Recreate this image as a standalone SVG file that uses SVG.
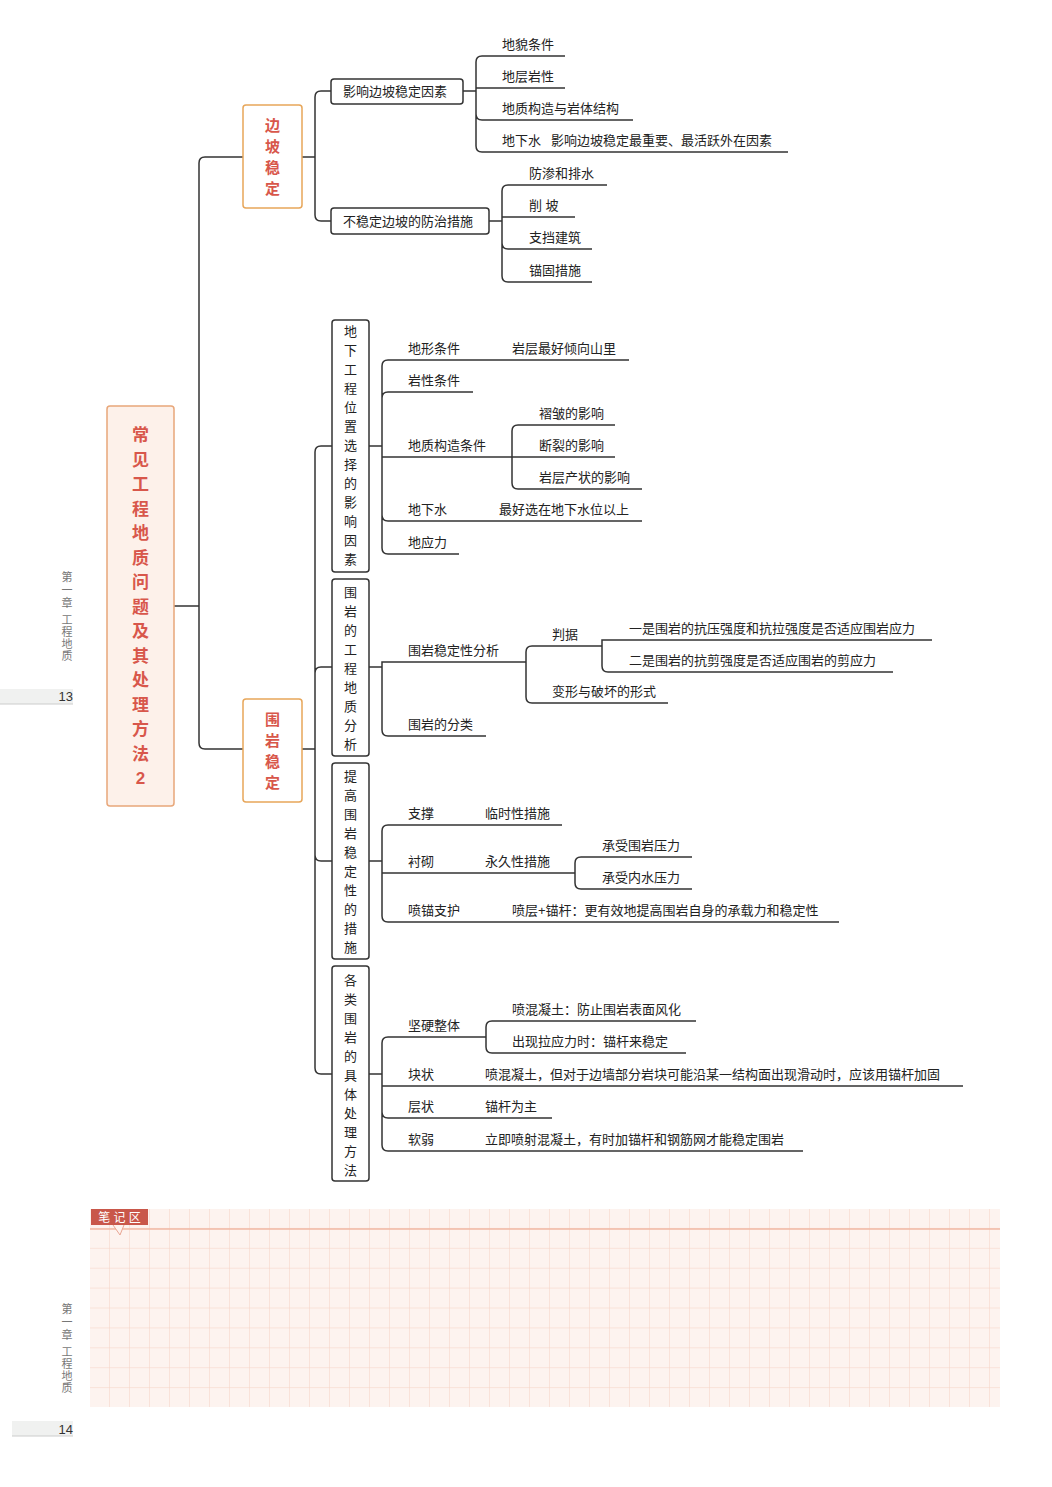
<svg xmlns="http://www.w3.org/2000/svg" width="1052" height="1487" viewBox="0 0 1052 1487">
<style>
text{font-family:"Liberation Sans","Noto Sans CJK SC",sans-serif;fill:#222;font-size:13px}
.c{fill:none;stroke:#333;stroke-width:1.5}
.box{fill:#fff;stroke:#333;stroke-width:1.5}
.obox{fill:#fff;stroke:#e7a65a;stroke-width:1.5}
.rt{fill:#d8574b;font-size:15px;font-weight:bold;text-anchor:middle}
.vt{text-anchor:middle;font-size:13px}
.m{fill:#777;font-size:11px;text-anchor:middle}
.g{stroke:#f6d2c4;stroke-width:1}
</style>
<defs>
<pattern id="grid" x="90" y="1209" width="20" height="19.9" patternUnits="userSpaceOnUse">
<path d="M20 0V19.9M0 19.9H20" class="g" fill="none"/>
</pattern>
</defs>
<g id="margin">
<text class="m" x="67" y="581">第</text><text class="m" x="67" y="594">一</text><text class="m" x="67" y="607">章</text>
<text class="m" x="67" y="624">工</text><text class="m" x="67" y="636">程</text><text class="m" x="67" y="648">地</text><text class="m" x="67" y="660">质</text>
<rect x="0" y="689" width="73" height="15" fill="#f0f1f0"/><line x1="0" y1="704" x2="73" y2="704" stroke="#ccc"/>
<text x="73" y="701" style="text-anchor:end;fill:#333;font-size:13px">13</text>
<text class="m" x="67" y="1313">第</text><text class="m" x="67" y="1326">一</text><text class="m" x="67" y="1339">章</text>
<text class="m" x="67" y="1356">工</text><text class="m" x="67" y="1368">程</text><text class="m" x="67" y="1380">地</text><text class="m" x="67" y="1392">质</text>
<rect x="12" y="1421" width="61" height="15" fill="#f0f1f0"/><line x1="12" y1="1436" x2="73" y2="1436" stroke="#ccc"/>
<text x="73" y="1434" style="text-anchor:end;fill:#333;font-size:13px">14</text>
</g>
<g id="notes">
<rect x="90" y="1209" width="910" height="198" fill="#fdf3ef"/>
<rect x="90" y="1209" width="910" height="198" fill="url(#grid)"/>
<line x1="90" y1="1229" x2="1000" y2="1229" stroke="#f0b8a4" stroke-width="1.5"/>
<rect x="91" y="1209" width="57" height="16" fill="#c9574a"/>
<path d="M113 1225 L120 1235 L124 1225" fill="#fdf3ef" stroke="#e9a593"/>
<text x="119.5" y="1222" style="fill:#fff;font-size:12px;text-anchor:middle">笔 记 区</text>
</g>
<g id="connectors">
<path class="c" d="M174 606H199M199 606V163Q199 157 205 157H243M199 606V743Q199 749 205 749H243"/>
<path class="c" d="M302 157H315M315 157V97Q315 91 321 91H331M315 157V215Q315 221 321 221H331"/>
<path class="c" d="M463 91H476M476 91V62Q476 56 482 56H565M476 91V88H565M476 91V114Q476 120 482 120H633M476 91V146Q476 152 482 152H788"/>
<path class="c" d="M489 221H502M502 221V191Q502 185 508 185H607M502 221V217H575M502 221V243Q502 249 508 249H592M502 221V276Q502 282 508 282H592"/>
<path class="c" d="M302 749H315M315 749V452Q315 446 321 446H332M315 749V673Q315 667 321 667H332M315 749V855Q315 861 321 861H332M315 749V1068Q315 1074 321 1074H332"/>
<path class="c" d="M369 446H382M382 446V366Q382 360 388 360H629M382 446V398Q382 392 388 392H473M382 446V457H512M382 446V515Q382 521 388 521H642M382 446V548Q382 554 388 554H459"/>
<path class="c" d="M512 457V431Q512 425 518 425H615M512 457H615M512 457V483Q512 489 518 489H642"/>
<path class="c" d="M369 667H382M382 667V662H526M382 667V730Q382 736 388 736H486"/>
<path class="c" d="M526 662V652Q526 646 532 646H602M526 662V697Q526 703 532 703H668M602 646V640H932M602 646V666Q602 672 608 672H893"/>
<path class="c" d="M369 861H382M382 861V831Q382 825 388 825H562M382 861V873H575M382 861V916Q382 922 388 922H839M575 873V863Q575 857 581 857H692M575 873V883Q575 889 581 889H692"/>
<path class="c" d="M369 1074H382M382 1074V1043Q382 1037 388 1037H486M382 1074V1086H963M382 1074V1112Q382 1118 388 1118H552M382 1074V1145Q382 1151 388 1151H803M486 1037V1027Q486 1021 492 1021H696M486 1037V1047Q486 1053 492 1053H686"/>
</g>
<g id="root">
<rect x="107" y="406" width="67" height="400" rx="3" fill="#fdf1ea" stroke="#e8a77a" stroke-width="1.5"/>
<text class="rt" style="font-size:17px"><tspan x="140.5" y="441">常</tspan><tspan x="140.5" y="466">见</tspan><tspan x="140.5" y="490">工</tspan><tspan x="140.5" y="515">程</tspan><tspan x="140.5" y="539">地</tspan><tspan x="140.5" y="564">质</tspan><tspan x="140.5" y="588">问</tspan><tspan x="140.5" y="613">题</tspan><tspan x="140.5" y="637">及</tspan><tspan x="140.5" y="662">其</tspan><tspan x="140.5" y="686">处</tspan><tspan x="140.5" y="711">理</tspan><tspan x="140.5" y="735">方</tspan><tspan x="140.5" y="760">法</tspan><tspan x="140.5" y="784">2</tspan></text>
</g>
<g id="n-slope">
<rect class="obox" x="243" y="105" width="59" height="103" rx="3"/>
<text class="rt"><tspan x="272.5" y="131">边</tspan><tspan x="272.5" y="152">坡</tspan><tspan x="272.5" y="173">稳</tspan><tspan x="272.5" y="194">定</tspan></text>
</g>
<g id="n-rock">
<rect class="obox" x="243" y="699" width="59" height="103" rx="3"/>
<text class="rt"><tspan x="272.5" y="725">围</tspan><tspan x="272.5" y="746">岩</tspan><tspan x="272.5" y="767">稳</tspan><tspan x="272.5" y="788">定</tspan></text>
</g>
<g id="n-factors">
<rect class="box" x="331" y="79" width="132" height="25" rx="3"/>
<text x="343" y="96">影响边坡稳定因素</text>
<text x="502" y="49">地貌条件</text><text x="502" y="81">地层岩性</text><text x="502" y="113">地质构造与岩体结构</text><text x="502" y="145">地下水</text><text x="551" y="145">影响边坡稳定最重要、最活跃外在因素</text>
</g>
<g id="n-measures">
<rect class="box" x="331" y="208" width="158" height="26" rx="3"/>
<text x="343" y="226">不稳定边坡的防治措施</text>
<text x="529" y="178">防渗和排水</text><text x="529" y="210">削 坡</text><text x="529" y="242">支挡建筑</text><text x="529" y="275">锚固措施</text>
</g>
<g id="n-b1">
<rect class="box" x="332" y="320" width="37" height="252" rx="3"/>
<text class="vt"><tspan x="350.5" y="336">地</tspan><tspan x="350.5" y="355">下</tspan><tspan x="350.5" y="374">工</tspan><tspan x="350.5" y="393">程</tspan><tspan x="350.5" y="412">位</tspan><tspan x="350.5" y="431">置</tspan><tspan x="350.5" y="450">选</tspan><tspan x="350.5" y="469">择</tspan><tspan x="350.5" y="488">的</tspan><tspan x="350.5" y="507">影</tspan><tspan x="350.5" y="526">响</tspan><tspan x="350.5" y="545">因</tspan><tspan x="350.5" y="564">素</tspan></text>
<text x="408" y="353">地形条件</text><text x="512" y="353">岩层最好倾向山里</text>
<text x="408" y="385">岩性条件</text>
<text x="408" y="450">地质构造条件</text>
<text x="539" y="418">褶皱的影响</text><text x="539" y="450">断裂的影响</text><text x="539" y="482">岩层产状的影响</text>
<text x="408" y="514">地下水</text><text x="499" y="514">最好选在地下水位以上</text>
<text x="408" y="547">地应力</text>
</g>
<g id="n-b2">
<rect class="box" x="332" y="579" width="37" height="177" rx="3"/>
<text class="vt"><tspan x="350.5" y="597">围</tspan><tspan x="350.5" y="616">岩</tspan><tspan x="350.5" y="635">的</tspan><tspan x="350.5" y="654">工</tspan><tspan x="350.5" y="673">程</tspan><tspan x="350.5" y="692">地</tspan><tspan x="350.5" y="711">质</tspan><tspan x="350.5" y="730">分</tspan><tspan x="350.5" y="749">析</tspan></text>
<text x="408" y="655">围岩稳定性分析</text>
<text x="552" y="639">判据</text>
<text x="629" y="633">一是围岩的抗压强度和抗拉强度是否适应围岩应力</text>
<text x="629" y="665">二是围岩的抗剪强度是否适应围岩的剪应力</text>
<text x="552" y="696">变形与破坏的形式</text>
<text x="408" y="729">围岩的分类</text>
</g>
<g id="n-b3">
<rect class="box" x="332" y="763" width="37" height="196" rx="3"/>
<text class="vt"><tspan x="350.5" y="781">提</tspan><tspan x="350.5" y="800">高</tspan><tspan x="350.5" y="819">围</tspan><tspan x="350.5" y="838">岩</tspan><tspan x="350.5" y="857">稳</tspan><tspan x="350.5" y="876">定</tspan><tspan x="350.5" y="895">性</tspan><tspan x="350.5" y="914">的</tspan><tspan x="350.5" y="933">措</tspan><tspan x="350.5" y="952">施</tspan></text>
<text x="408" y="818">支撑</text><text x="485" y="818">临时性措施</text>
<text x="408" y="866">衬砌</text><text x="485" y="866">永久性措施</text>
<text x="602" y="850">承受围岩压力</text><text x="602" y="882">承受内水压力</text>
<text x="408" y="915">喷锚支护</text><text x="512" y="915">喷层+锚杆：更有效地提高围岩自身的承载力和稳定性</text>
</g>
<g id="n-b4">
<rect class="box" x="332" y="966" width="37" height="215" rx="3"/>
<text class="vt"><tspan x="350.5" y="985">各</tspan><tspan x="350.5" y="1004">类</tspan><tspan x="350.5" y="1023">围</tspan><tspan x="350.5" y="1042">岩</tspan><tspan x="350.5" y="1061">的</tspan><tspan x="350.5" y="1080">具</tspan><tspan x="350.5" y="1099">体</tspan><tspan x="350.5" y="1118">处</tspan><tspan x="350.5" y="1137">理</tspan><tspan x="350.5" y="1156">方</tspan><tspan x="350.5" y="1175">法</tspan></text>
<text x="408" y="1030">坚硬整体</text>
<text x="512" y="1014">喷混凝土：防止围岩表面风化</text>
<text x="512" y="1046">出现拉应力时：锚杆来稳定</text>
<text x="408" y="1079">块状</text><text x="485" y="1079">喷混凝土，但对于边墙部分岩块可能沿某一结构面出现滑动时，应该用锚杆加固</text>
<text x="408" y="1111">层状</text><text x="485" y="1111">锚杆为主</text>
<text x="408" y="1144">软弱</text><text x="485" y="1144">立即喷射混凝土，有时加锚杆和钢筋网才能稳定围岩</text>
</g>
</svg>
